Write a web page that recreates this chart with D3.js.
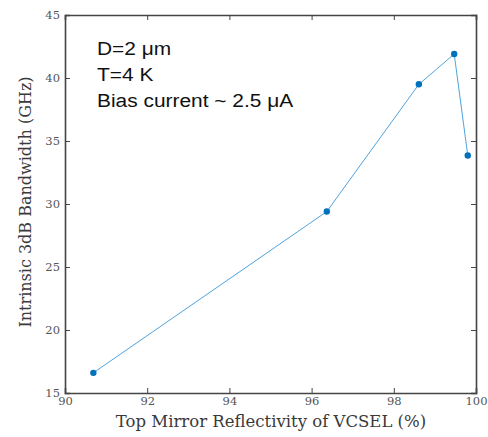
<!DOCTYPE html>
<html>
<head>
<meta charset="utf-8">
<script src="https://cdn.jsdelivr.net/npm/d3@7"></script>
<style>
  body { margin: 0; background: #fff; }
  .tick text { font-family: "DejaVu Serif", serif; font-size: 11.5px; fill: #555; }
</style>
</head>
<body>
<div id="chart"></div>
<script>
// reflectivity (%) vs intrinsic bandwidth (GHz)
var reflectivity = [90.69, 96.37, 98.61, 99.47, 99.80];
var bandwidth = [16.6, 29.4, 39.5, 41.9, 33.85];
var xTicks = [90, 92, 94, 96, 98, 100];
var yTicks = [15, 20, 25, 30, 35, 40, 45];
var notes = ["D=2 μm", "T=4 K", "Bias current ~ 2.5 μA"];

var W = 488, H = 437;
var margin = { top: 15, right: 12, bottom: 44, left: 65 };
var w = W - margin.left - margin.right;
var h = H - margin.top - margin.bottom;

var svg = d3.select("#chart").append("svg")
    .attr("width", W)
    .attr("height", H);

var g = svg.append("g")
    .attr("transform", `translate(${margin.left}, ${margin.top})`);

var x = d3.scaleLinear().domain([90, 100]).range([0, w]);
var y = d3.scaleLinear().domain([15, 45]).range([h, 0]);

var axisColor = "#444";

// axes on all four sides, inward ticks
var axBottom = g.append("g").attr("transform", `translate(0, ${h})`)
    .call(d3.axisBottom(x).tickValues(xTicks).tickSize(-5).tickPadding(4).tickFormat(d3.format("d")));
var axTop = g.append("g")
    .call(d3.axisTop(x).tickValues(xTicks).tickSize(-5).tickFormat(""));
var axLeft = g.append("g")
    .call(d3.axisLeft(y).tickValues(yTicks).tickSize(-5).tickPadding(5).tickFormat(d3.format("d")));
var axRight = g.append("g").attr("transform", `translate(${w}, 0)`)
    .call(d3.axisRight(y).tickValues(yTicks).tickSize(-5).tickFormat(""));

[axBottom, axTop, axLeft, axRight].forEach(a => {
    a.select(".domain").attr("stroke", axisColor).attr("stroke-width", 1.6);
    a.selectAll(".tick line").attr("stroke", axisColor).attr("stroke-width", 1);
});

// line
var line = d3.line()
    .x((d, i) => x(reflectivity[i]))
    .y(d => y(d));

g.append("path")
    .datum(bandwidth)
    .attr("d", line)
    .attr("fill", "none")
    .attr("stroke", "#4fa3de")
    .attr("stroke-width", 1);

g.selectAll(".pt")
    .data(bandwidth)
    .enter()
    .append("circle")
    .attr("class", "pt")
    .attr("cx", (d, i) => x(reflectivity[i]))
    .attr("cy", d => y(d))
    .attr("r", 3.2)
    .attr("fill", "#0072bd");

// annotation (source is a bit stretched sideways)
g.append("g")
    .attr("transform", "translate(32, 0) scale(1.1, 1)")
    .selectAll("text")
    .data(notes)
    .enter()
    .append("text")
    .attr("x", 0)
    .attr("y", (d, i) => 40 + i * 25.8)
    .attr("font-family", "Liberation Sans, Arial, sans-serif")
    .attr("font-size", "19px")
    .attr("fill", "#111")
    .text(d => d);

// axis labels
svg.append("text")
    .attr("x", 271)
    .attr("y", 427)
    .attr("text-anchor", "middle")
    .attr("font-family", "DejaVu Serif, serif")
    .attr("font-size", "16.5px")
    .attr("fill", "#3a3a3a")
    .text("Top Mirror Reflectivity of VCSEL (%)");

svg.append("text")
    .attr("transform", `translate(31, 202) rotate(-90)`)
    .attr("text-anchor", "middle")
    .attr("font-family", "DejaVu Serif, serif")
    .attr("font-size", "16px")
    .attr("fill", "#3a3a3a")
    .text("Intrinsic 3dB Bandwidth (GHz)");
</script>
</body>
</html>
